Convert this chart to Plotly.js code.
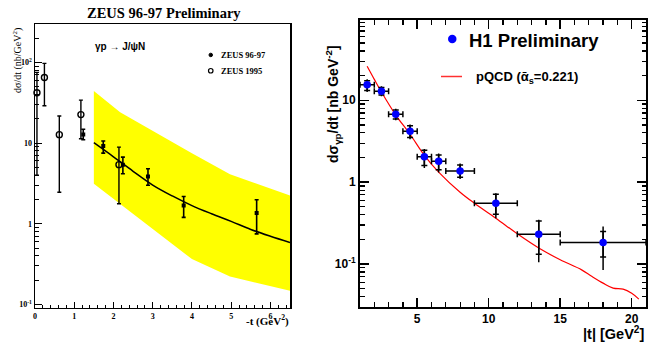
<!DOCTYPE html>
<html><head><meta charset="utf-8">
<script src="https://cdn.plot.ly/plotly-3.0.1.min.js"></script>
<style>html,body{margin:0;padding:0;background:#fff}#c{width:648px;height:347px}</style>
</head><body><div id="c"></div>
<script>
// ---- Left panel (ZEUS) ----
var z97X  = [1.23, 1.74, 2.24, 2.88, 3.79, 5.65];
var z97Y  = [12.8, 9.2, 5.4, 3.86, 1.68, 1.36];
var z97Hi = [14.8, 10.6, 6.7, 4.8, 2.18, 1.98];
var z97Lo = [11.0, 7.5, 4.17, 3.0, 1.2, 0.75];

var z95X  = [0.05, 0.24, 0.62, 1.17, 2.14];
var z95Y  = [42, 65, 12.7, 22.5, 5.4];
var z95Hi = [75, 97, 21.6, 34, 8.9];
var z95Lo = [4.0, 29, 2.46, 11.3, 1.77];

var fitX = [1.5, 2.0, 2.5, 3.0, 3.5, 4.0, 4.5, 5.0, 5.5, 6.0, 6.5];
var fitY = [10.1, 6.76, 4.47, 3.02, 2.21, 1.68, 1.33, 1.07, 0.85, 0.70, 0.586];

var bandX  = [1.5, 2.17, 4.0, 4.97, 6.5];
var bandLo = [3.13, 1.77, 0.365, 0.222, 0.148];
var bandHi = [44, 24, 7.5, 4.1, 2.24];

// ---- Right panel (H1) ----
var h1X     = [1.5, 2.5, 3.5, 4.5, 5.5, 6.5, 8.0, 10.5, 13.5, 18.0];
var h1BinLo = [1, 2, 3, 4, 5, 6, 7, 9, 12, 15];
var h1BinHi = [2, 3, 4, 5, 6, 7, 9, 12, 15, 21];
var h1Y     = [15.5, 12.9, 6.74, 4.19, 2.04, 1.80, 1.37, 0.554, 0.232, 0.183];
var h1TotHi = [18.0, 14.8, 7.9, 5.06, 2.55, 2.24, 1.69, 0.734, 0.347, 0.288];
var h1TotLo = [12.6, 11.2, 5.7, 3.34, 1.49, 1.31, 1.09, 0.364, 0.105, 0.085];
var h1StHi  = [17.3, 14.3, 7.6, 4.9, 2.45, 2.15, 1.62, 0.714, 0.337, 0.25];
var h1StLo  = [13.2, 11.6, 5.9, 3.5, 1.6, 1.42, 1.15, 0.407, 0.132, 0.122];

var qcdX = [1.5, 2.0, 2.5, 3.5, 4.5, 5.5, 6.5, 8.0, 9.0, 10.5, 12.0, 13.5, 15.0, 16.5, 17.2, 18.0, 18.7, 19.4, 20.0, 20.5];
var qcdY = [26, 18, 12.6, 6.6, 3.85, 2.13, 1.33, 0.755, 0.554, 0.364, 0.234, 0.157, 0.113, 0.085, 0.071, 0.0586, 0.051, 0.0495, 0.044, 0.0374];

function sub(a, b) { return a.map(function (v, i) { return v - b[i]; }); }
function subr(a, b) { return a.map(function (v, i) { return b[i] - v; }); }

var serif = 'Liberation Serif, Times New Roman, serif';
var sans = 'Liberation Sans, Arial, sans-serif';

var traces = [
  {x: bandX, y: bandLo, xaxis: 'x', yaxis: 'y', mode: 'lines', line: {width: 0, color: '#ffff00'}, showlegend: false, hoverinfo: 'skip'},
  {x: bandX, y: bandHi, xaxis: 'x', yaxis: 'y', mode: 'lines', line: {width: 0, color: '#ffff00'}, fill: 'tonexty', fillcolor: '#ffff00', showlegend: false, hoverinfo: 'skip'},
  {x: fitX, y: fitY, xaxis: 'x', yaxis: 'y', mode: 'lines', line: {color: '#000', width: 1.5, shape: 'spline'}, showlegend: false},
  {x: z95X, y: z95Y, xaxis: 'x', yaxis: 'y', mode: 'markers',
   marker: {symbol: 'circle-open', size: 6, color: '#000', line: {width: 1.4, color: '#000'}},
   error_y: {type: 'data', symmetric: false, array: sub(z95Hi, z95Y), arrayminus: subr(z95Lo, z95Y), color: '#000', thickness: 1.4, width: 2},
   showlegend: false, cliponaxis: false},
  {x: z97X, y: z97Y, xaxis: 'x', yaxis: 'y', mode: 'markers',
   marker: {symbol: 'square', size: 4, color: '#000'},
   error_y: {type: 'data', symmetric: false, array: sub(z97Hi, z97Y), arrayminus: subr(z97Lo, z97Y), color: '#000', thickness: 1.6, width: 2},
   showlegend: false},

  {x: qcdX, y: qcdY, xaxis: 'x2', yaxis: 'y2', mode: 'lines', line: {color: '#ff0000', width: 1.2, shape: 'spline'}, showlegend: false},
  {x: h1X, y: h1Y, xaxis: 'x2', yaxis: 'y2', mode: 'markers', marker: {size: 1, color: 'rgba(0,0,0,0)'},
   error_x: {type: 'data', symmetric: false, array: sub(h1BinHi, h1X), arrayminus: subr(h1BinLo, h1X), color: '#000', thickness: 1.5, width: 3},
   error_y: {type: 'data', symmetric: false, array: sub(h1TotHi, h1Y), arrayminus: subr(h1TotLo, h1Y), color: '#000', thickness: 1.5, width: 0},
   showlegend: false},
  {x: h1X, y: h1Y, xaxis: 'x2', yaxis: 'y2', mode: 'markers',
   marker: {size: 7.5, color: '#0000ff'},
   error_y: {type: 'data', symmetric: false, array: sub(h1StHi, h1Y), arrayminus: subr(h1StLo, h1Y), color: '#000', thickness: 1.5, width: 3},
   showlegend: false}
];

function minorLog(lo, hi) {
  var v = [];
  for (var e = lo; e <= hi; e++) for (var m = 2; m <= 9; m++) v.push(m * Math.pow(10, e));
  return v;
}

var W = 648, H = 347;
function px(x) { return x / W; }
function py(y) { return 1 - y / H; }

var layout = {
  width: W, height: H,
  margin: {l: 0, r: 0, t: 0, b: 0},
  paper_bgcolor: '#fff', plot_bgcolor: 'rgba(0,0,0,0)',
  showlegend: false,
  xaxis: {domain: [px(35), px(290)], anchor: 'y', range: [0, 6.5], showgrid: false, zeroline: false,
    showline: true, mirror: true, linecolor: '#000', linewidth: 1.5,
    ticks: 'inside', ticklen: 6, tickcolor: '#000', tickwidth: 1,
    tickmode: 'array', tickvals: [0, 1, 2, 3, 4, 5, 6], ticktext: ['0', '1', '2', '3', '4', '5', '6'],
    tickfont: {family: serif, size: 8, color: '#000', weight: 'bold'},
    minor: {ticks: 'inside', ticklen: 3, dtick: 0.2, tick0: 0, tickcolor: '#000', showgrid: false},
    automargin: false},
  yaxis: {domain: [py(307.7), py(24)], anchor: 'x', type: 'log', range: [-1.04, 2.475], showgrid: false, zeroline: false,
    showline: true, mirror: true, linecolor: '#000', linewidth: 1.5,
    ticks: 'inside', ticklen: 7, tickcolor: '#000', tickwidth: 1,
    tickmode: 'array', tickvals: [0.1, 1, 10, 100], ticktext: ['10<sup>-1</sup>', '1', '10', '10<sup>2</sup>'],
    tickfont: {family: serif, size: 8, color: '#000', weight: 'bold'},
    minor: {ticks: 'inside', ticklen: 3.5, tickmode: 'array', tickvals: minorLog(-1, 2), tickcolor: '#000', showgrid: false},
    automargin: false},
  xaxis2: {domain: [px(360), px(646)], anchor: 'y2', range: [1, 21], showgrid: false, zeroline: false,
    showline: true, mirror: 'ticks', linecolor: '#000', linewidth: 2,
    ticks: 'inside', ticklen: 9, tickcolor: '#000', tickwidth: 1.5,
    tickmode: 'array', tickvals: [5, 10, 15, 20], ticktext: ['5', '10', '15', '20'],
    tickfont: {family: sans, size: 12, color: '#000', weight: 'bold'},
    minor: {ticks: 'inside', ticklen: 4.5, dtick: 1, tick0: 0, tickcolor: '#000', tickwidth: 1.2, showgrid: false},
    automargin: false},
  yaxis2: {domain: [py(306.7), py(20)], anchor: 'x2', type: 'log', range: [-1.52, 1.98], showgrid: false, zeroline: false,
    showline: true, mirror: 'ticks', linecolor: '#000', linewidth: 2,
    ticks: 'inside', ticklen: 9, tickcolor: '#000', tickwidth: 1.5,
    tickmode: 'array', tickvals: [0.1, 1, 10], ticktext: ['10<sup>-1</sup>', '1', '10'],
    tickfont: {family: sans, size: 12, color: '#000', weight: 'bold'},
    minor: {ticks: 'inside', ticklen: 4.5, tickmode: 'array', tickvals: minorLog(-2, 1), tickcolor: '#000', tickwidth: 1.2, showgrid: false},
    automargin: false},
  shapes: [
    {type: 'circle', xref: 'paper', yref: 'paper', x0: px(209), x1: px(212.5), y0: py(56.7), y1: py(53.2), fillcolor: '#000', line: {color: '#000', width: 1}},
    {type: 'circle', xref: 'paper', yref: 'paper', x0: px(208.5), x1: px(213), y0: py(73), y1: py(68.5), fillcolor: 'rgba(0,0,0,0)', line: {color: '#000', width: 1.2}},
    {type: 'circle', xref: 'paper', yref: 'paper', x0: px(448), x1: px(456.5), y0: py(43.3), y1: py(34.8), fillcolor: '#0000ff', line: {color: '#0000ff', width: 0}},
    {type: 'line', xref: 'paper', yref: 'paper', x0: px(441), x1: px(462), y0: py(76.5), y1: py(76.5), line: {color: '#ff3030', width: 1.5}}
  ],
  annotations: [
    {text: 'ZEUS 96-97 Preliminary', xref: 'paper', yref: 'paper', x: px(164), y: py(13), xanchor: 'center', yanchor: 'middle', showarrow: false,
     font: {family: serif, size: 14.5, color: '#000', weight: 'bold'}},
    {text: 'γp → J/ψN', xref: 'paper', yref: 'paper', x: px(93), y: py(47), xanchor: 'left', yanchor: 'middle', showarrow: false,
     font: {family: sans, size: 10, color: '#000', weight: 'bold'}},
    {text: 'ZEUS 96-97', xref: 'paper', yref: 'paper', x: px(219), y: py(55), xanchor: 'left', yanchor: 'middle', showarrow: false,
     font: {family: serif, size: 8.5, color: '#000', weight: 'bold'}},
    {text: 'ZEUS 1995', xref: 'paper', yref: 'paper', x: px(219), y: py(71), xanchor: 'left', yanchor: 'middle', showarrow: false,
     font: {family: serif, size: 8.5, color: '#000', weight: 'bold'}},
    {text: 'dσ/dt (nb/GeV<sup>2</sup>)', xref: 'paper', yref: 'paper', x: px(18), y: py(61), xanchor: 'center', yanchor: 'middle', textangle: -90, showarrow: false,
     font: {family: serif, size: 10, color: '#000'}},
    {text: '-t (GeV<sup>2</sup>)', xref: 'paper', yref: 'paper', x: px(291), y: py(320), xanchor: 'right', yanchor: 'middle', showarrow: false,
     font: {family: serif, size: 11, color: '#000', weight: 'bold'}},
    {text: 'H1 Preliminary', xref: 'paper', yref: 'paper', x: px(467), y: py(40), xanchor: 'left', yanchor: 'middle', showarrow: false,
     font: {family: sans, size: 18.5, color: '#000', weight: 'bold'}},
    {text: 'pQCD (ᾱ<sub>s</sub>=0.221)', xref: 'paper', yref: 'paper', x: px(474), y: py(78), xanchor: 'left', yanchor: 'middle', showarrow: false,
     font: {family: sans, size: 13, color: '#000', weight: 'bold'}},
    {text: 'dσ<sub>γp</sub>/dt [nb GeV<sup>-2</sup>]', xref: 'paper', yref: 'paper', x: px(333), y: py(104), xanchor: 'center', yanchor: 'middle', textangle: -90, showarrow: false,
     font: {family: sans, size: 14, color: '#000', weight: 'bold'}},
    {text: '|t| [GeV<sup>2</sup>]', xref: 'paper', yref: 'paper', x: px(646), y: py(333), xanchor: 'right', yanchor: 'middle', showarrow: false,
     font: {family: sans, size: 14.5, color: '#000', weight: 'bold'}}
  ]
};

Plotly.newPlot('c', traces, layout, {staticPlot: true, displayModeBar: false});
</script>
</body></html>
